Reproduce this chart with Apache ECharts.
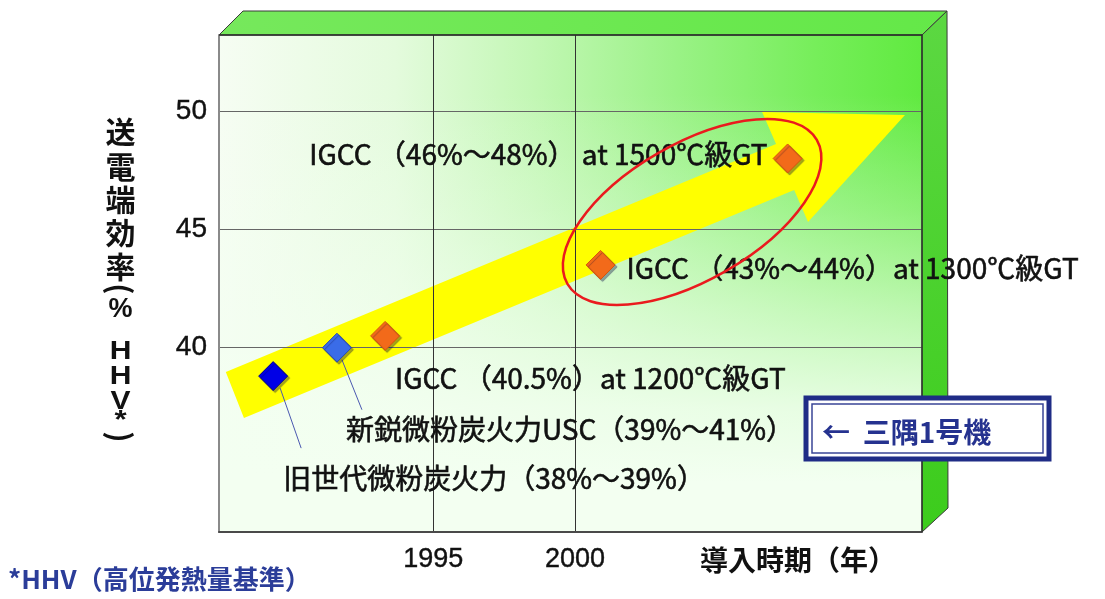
<!DOCTYPE html>
<html>
<head>
<meta charset="utf-8">
<script src="https://cdn.jsdelivr.net/npm/echarts@6/dist/echarts.min.js"></script>
<style>
  html, body { margin: 0; padding: 0; background: #ffffff; }
  #main { width: 1105px; height: 599px; }
</style>
</head>
<body>
<div id="main"></div>
<script>
// Power plant generations: year of introduction and sending-end efficiency (% HHV)
const plantLabels = [
  '旧世代微粉炭火力（38%～39%）',
  '新鋭微粉炭火力USC（39%～41%）',
  'IGCC （40.5%）at 1200℃級GT',
  'IGCC （43%～44%）at 1300℃級GT',
  'IGCC （46%～48%） at 1500℃級GT'
];
const introYears = [1989.35, 1991.6, 1993.3, 2000.9, 2007.5];
const efficiencies = [38.8, 40.0, 40.5, 43.5, 48.0];

// Axis ticks
const yearTicks = [1995, 2000];
const efficiencyTicks = [40, 45, 50];

// Trend arrow outline in (year, efficiency) space
const trendArrow = [
  [1987.68, 38.97], [2007.09, 48.61], [2006.60, 49.97], [2011.64, 49.84],
  [2008.22, 45.32], [2007.73, 46.67], [1988.32, 37.03]
];

const CJK = "'Noto Sans CJK JP', 'Noto Sans', sans-serif";
const LATIN = "'Liberation Sans', Arial, sans-serif";
const X_MIN = 1987.44, X_MAX = 2012.24;
const Y_MIN = 32.21, Y_MAX = 53.22;

// Marker look per plant
const markerStyles = [
  { color: '#0000e6', borderColor: '#00008a' },
  { color: '#3a6ce8', borderColor: '#2448b4' },
  { color: '#f26a1a', borderColor: '#d4560c' },
  { color: '#f26a1a', borderColor: '#d4560c' },
  { color: '#f26a1a', borderColor: '#d4560c' }
];
// Label placement per plant
const labelPlacement = [
  { position: 'right', offset: [-5, 102] },
  { position: 'right', offset: [-6, 82] },
  { position: 'right', offset: [-5, 42] },
  { position: 'right', offset: [11, 3] },
  { position: 'left', offset: [-5, -4] }
];

const chart = echarts.init(document.getElementById('main'), null, { renderer: 'canvas' });

const option = {
  animation: false,
  backgroundColor: '#ffffff',
  grid: { left: 219, right: 183, top: 35, bottom: 67, show: false },
  xAxis: {
    type: 'value',
    min: X_MIN,
    max: X_MAX,
    axisLine: { show: true, lineStyle: { color: '#4a4a4a', width: 2 } },
    axisTick: { show: false, customValues: yearTicks },
    axisLabel: {
      customValues: yearTicks,
      margin: 14,
      fontSize: 27,
      fontFamily: LATIN,
      color: '#111',
      textBorderColor: '#111',
      textBorderWidth: 0.4,
      formatter: v => String(v)
    },
    splitLine: { show: true, lineStyle: { color: '#333', width: 1 } }
  },
  yAxis: {
    type: 'value',
    min: Y_MIN,
    max: Y_MAX,
    axisLine: { show: true, lineStyle: { color: '#8a8a8a', width: 2 } },
    axisTick: { show: false, customValues: efficiencyTicks },
    axisLabel: {
      customValues: efficiencyTicks,
      margin: 12,
      fontSize: 28,
      fontFamily: LATIN,
      color: '#111',
      textBorderColor: '#111',
      textBorderWidth: 0.4,
      formatter: v => String(v)
    },
    splitLine: { show: true, lineStyle: { color: '#666', width: 1 } }
  },
  series: [
    {
      // yellow trend arrow behind the grid lines
      type: 'custom',
      z: -5,
      silent: true,
      clip: false,
      data: [0],
      renderItem: (params, api) => {
        const pts = trendArrow.map(p => api.coord(p));
        return {
          type: 'polygon',
          shape: { points: pts },
          style: { fill: '#ffff00' }
        };
      }
    },
    {
      type: 'scatter',
      symbol: 'diamond',
      symbolSize: 29,
      z: 5,
      data: introYears.map((yr, i) => ({
        value: [yr, efficiencies[i]],
        name: plantLabels[i],
        itemStyle: {
          opacity: 1,
          color: markerStyles[i].color,
          borderColor: markerStyles[i].borderColor,
          borderWidth: 1,
          shadowColor: 'rgba(0,0,60,0.35)',
          shadowOffsetX: 2,
          shadowOffsetY: 2,
          shadowBlur: 1
        },
        label: {
          show: true,
          position: labelPlacement[i].position,
          distance: 0,
          offset: labelPlacement[i].offset,
          formatter: plantLabels[i],
          fontSize: 28,
          fontFamily: CJK,
          color: '#111',
          textBorderColor: '#111',
          textBorderWidth: 0.6
        }
      }))
    }
  ]
};

chart.setOption(option);

// Box decoration, annotations and free texts placed from the grid's pixel frame
const toPx = (x, y) => chart.convertToPixel({ gridIndex: 0 }, [x, y]);
const [L, B] = toPx(X_MIN, Y_MIN);
const [R, T] = toPx(X_MAX, Y_MAX);
const depthX = 25, depthY = 24;

const graphics = [];

// front face: horizontal green gradient
graphics.push({
  type: 'rect', z: -10, silent: true,
  shape: { x: L, y: T, width: R - L, height: B - T },
  style: {
    fill: new echarts.graphic.LinearGradient(0, 0, 1, 0, [
      { offset: 0, color: '#f6fdf3' },
      { offset: 0.25, color: '#e4fbdd' },
      { offset: 0.45, color: '#c2f7b4' },
      { offset: 0.65, color: '#9af286' },
      { offset: 0.85, color: '#76ee5a' },
      { offset: 1, color: '#60ea40' }
    ])
  }
});
// front face: fade toward the bottom
graphics.push({
  type: 'rect', z: -9, silent: true,
  shape: { x: L, y: T, width: R - L, height: B - T },
  style: {
    fill: new echarts.graphic.LinearGradient(0, 0, 0, 1, [
      { offset: 0, color: 'rgba(243,255,241,0)' },
      { offset: 0.12, color: 'rgba(243,255,241,0)' },
      { offset: 0.35, color: 'rgba(243,255,241,0.3)' },
      { offset: 0.55, color: 'rgba(243,255,241,0.62)' },
      { offset: 0.75, color: 'rgba(243,255,241,0.9)' },
      { offset: 0.9, color: 'rgba(243,255,241,1)' },
      { offset: 1, color: 'rgba(243,255,241,1)' }
    ])
  }
});
// top face
graphics.push({
  type: 'polygon', z: -8, silent: true,
  shape: { points: [[L, T], [R, T], [R + depthX, T - depthY], [L + depthX - 1, T - depthY]] },
  style: {
    fill: new echarts.graphic.LinearGradient(0, 0, 1, 0, [
      { offset: 0, color: '#76e85c' },
      { offset: 1, color: '#64e848' }
    ]),
    stroke: '#3a3a3a', lineWidth: 1
  }
});
// right side face
graphics.push({
  type: 'polygon', z: -8, silent: true,
  shape: { points: [[R, T], [R + depthX, T - depthY], [R + depthX + 1, B - depthY], [R, B]] },
  style: {
    fill: new echarts.graphic.LinearGradient(0, 0, 0, 1, [
      { offset: 0, color: '#5cd842' },
      { offset: 1, color: '#3ccc1c' }
    ]),
    stroke: '#3a3a3a', lineWidth: 1
  }
});
// front face edges
graphics.push({
  type: 'polyline', z: 3, silent: true,
  shape: { points: [[L, T], [R, T], [R, B]] },
  style: { stroke: '#2a2a2a', lineWidth: 1.3, fill: null }
});

// leader lines from the coal plant markers to their captions
const leaderOffsets = [
  [[7, 12], [28, 72]],
  [[5, 12], [25, 62]]
];
leaderOffsets.forEach((seg, i) => {
  const [px, py] = toPx(introYears[i], efficiencies[i]);
  graphics.push({
    type: 'line', z: 4, silent: true,
    shape: { x1: px + seg[0][0], y1: py + seg[0][1], x2: px + seg[1][0], y2: py + seg[1][1] },
    style: { stroke: '#4a58b0', lineWidth: 1 }
  });
});

// red ellipse around the advanced IGCC generations
const [ecx, ecy] = toPx(2004.13, 45.74);
graphics.push({
  type: 'ellipse', z: 6, silent: true,
  x: ecx, y: ecy, rotation: Math.PI / 6,
  shape: { cx: 0, cy: 0, rx: 144, ry: 68 },
  style: { fill: null, stroke: '#ea1a1e', lineWidth: 2.5 }
});

// vertical y-axis title: [char, centre y, turned, font, horizontal stretch]
const yTitle = [
  ['送', 131.7], ['電', 166.7], ['端', 200], ['効', 233], ['率', 266.7],
  ['(', 289, true], ['%', 310, false, `bold 27px ${LATIN}`],
  ['H', 351.7, false, `bold 25px ${LATIN}`, 1.2], ['H', 376.7, false, `bold 25px ${LATIN}`, 1.2],
  ['V', 401.7, false, `bold 25px ${LATIN}`, 1.2], ['*', 421, false, `bold 26px ${LATIN}`, 1.2],
  [')', 437, true]
];
yTitle.forEach(([ch, y, turn, font, sx]) => {
  graphics.push({
    type: 'text', z: 6, silent: true,
    x: 120.5, y: y, rotation: turn ? -Math.PI / 2 : 0,
    scaleX: sx || 1,
    style: {
      text: ch, fill: '#111', font: font || `bold 30px ${CJK}`,
      textAlign: 'center', textVerticalAlign: 'middle'
    }
  });
});

// x-axis title
graphics.push({
  type: 'text', z: 6, silent: true,
  x: 798, y: 560,
  style: {
    text: '導入時期（年）', fill: '#111', font: `bold 28px ${CJK}`,
    textAlign: 'center', textVerticalAlign: 'middle'
  }
});

// footnote
graphics.push({
  type: 'text', z: 6, silent: true,
  x: 8, y: 579,
  style: {
    text: '*HHV（高位発熱量基準）', fill: '#2b3d99', font: `bold 26px ${CJK}`,
    textAlign: 'left', textVerticalAlign: 'middle'
  }
});

// callout box for the Misumi unit
graphics.push({
  type: 'rect', z: 6, silent: true,
  shape: { x: 806, y: 398, width: 243, height: 61 },
  style: { fill: '#ffffff', stroke: '#1f2c86', lineWidth: 5 }
});
graphics.push({
  type: 'rect', z: 7, silent: true,
  shape: { x: 812, y: 404, width: 231, height: 49 },
  style: { fill: null, stroke: '#3a4596', lineWidth: 1.5 }
});
graphics.push({
  type: 'text', z: 8, silent: true,
  x: 822, y: 432,
  style: {
    text: '←  三隅1号機', fill: '#25328f', font: `bold 28px ${CJK}`,
    textAlign: 'left', textVerticalAlign: 'middle'
  }
});

chart.setOption({ graphic: { elements: graphics } });
</script>
</body>
</html>
